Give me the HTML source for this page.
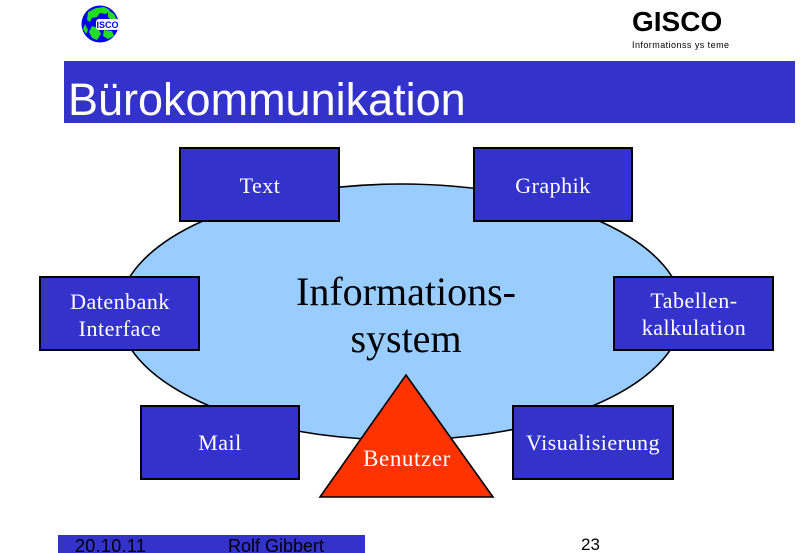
<!DOCTYPE html>
<html>
<head>
<meta charset="utf-8">
<style>
  html, body { margin:0; padding:0; background:#ffffff; }
  body { width:800px; height:553px; overflow:hidden; position:relative; }
  svg { display:block; }
  .serif { font-family:"Liberation Serif", serif; }
  .sans { font-family:"Liberation Sans", sans-serif; }
</style>
</head>
<body>
<svg width="800" height="553" viewBox="0 0 800 553" xmlns="http://www.w3.org/2000/svg">
  <!-- Logo globe -->
  <g>
    <circle cx="100" cy="24" r="18.5" fill="#0000ee"/>
    <path d="M88 12 L96 8 L104 7 L110 10 L106 14 L100 13 L97 17 L92 18 L90 22 L87 20 Z" fill="#22dd22"/>
    <path d="M108 10 L114 14 L117 20 L112 21 L108 17 Z" fill="#22dd22"/>
    <path d="M92 26 L98 28 L101 34 L97 40 L92 38 L89 32 Z" fill="#22dd22"/>
    <path d="M104 30 L112 31 L114 36 L108 39 L103 36 Z" fill="#22dd22"/>
    <path d="M85 24 L88 30 L86 34 L83 29 Z" fill="#22dd22"/>
    <rect x="96" y="19" width="23" height="11" rx="3" fill="#ffffff"/>
    <text x="107.5" y="28" text-anchor="middle" class="sans" font-size="9" font-weight="bold" fill="#0000ee">ISCO</text>
  </g>

  <!-- GISCO header -->
  <text x="632" y="31" class="sans" font-size="28" font-weight="bold" fill="#000">GISCO</text>
  <text x="632" y="48" class="sans" font-size="9" fill="#000" letter-spacing="0.45">Informationss ys teme</text>

  <!-- Title bar -->
  <rect x="64" y="61" width="731" height="62" fill="#3333cc"/>
  <text x="68" y="115" class="sans" font-size="45" fill="#ffffff">Bürokommunikation</text>

  <!-- Ellipse -->
  <ellipse cx="401" cy="312" rx="282" ry="128" fill="#99ccff" stroke="#000" stroke-width="1.6"/>

  <!-- Center text -->
  <text x="406" y="305" text-anchor="middle" class="serif" font-size="40" fill="#000">Informations-</text>
  <text x="406" y="352" text-anchor="middle" class="serif" font-size="40" fill="#000">system</text>

  <!-- Boxes -->
  <g fill="#3333cc" stroke="#000" stroke-width="2">
    <rect x="180" y="148" width="159" height="73"/>
    <rect x="474" y="148" width="158" height="73"/>
    <rect x="40" y="277" width="159" height="73"/>
    <rect x="614" y="277" width="159" height="73"/>
    <rect x="141" y="406" width="158" height="73"/>
    <rect x="513" y="406" width="160" height="73"/>
  </g>

  <g class="serif" font-size="22" fill="#ffffff" text-anchor="middle" letter-spacing="0.5">
    <text x="260" y="193">Text</text>
    <text x="553" y="193">Graphik</text>
    <text x="120" y="309">Datenbank</text>
    <text x="120" y="336">Interface</text>
    <text x="694" y="308">Tabellen-</text>
    <text x="694" y="335">kalkulation</text>
    <text x="220" y="450">Mail</text>
    <text x="593" y="450">Visualisierung</text>
  </g>

  <!-- Triangle -->
  <polygon points="406,375 320,497 493,497" fill="#ff3300" stroke="#000" stroke-width="1.6" stroke-linejoin="miter"/>
  <text x="407" y="466" text-anchor="middle" class="serif" font-size="23" fill="#ffffff" letter-spacing="0.6">Benutzer</text>

  <!-- Footer -->
  <rect x="58" y="535" width="307" height="18" fill="#3333cc"/>
  <text x="75" y="552" class="sans" font-size="18" fill="#000" letter-spacing="0.3">20.10.11</text>
  <text x="228" y="552" class="sans" font-size="18" fill="#000">Rolf Gibbert</text>
  <text x="581" y="550" class="sans" font-size="17" fill="#000">23</text>
</svg>
</body>
</html>
